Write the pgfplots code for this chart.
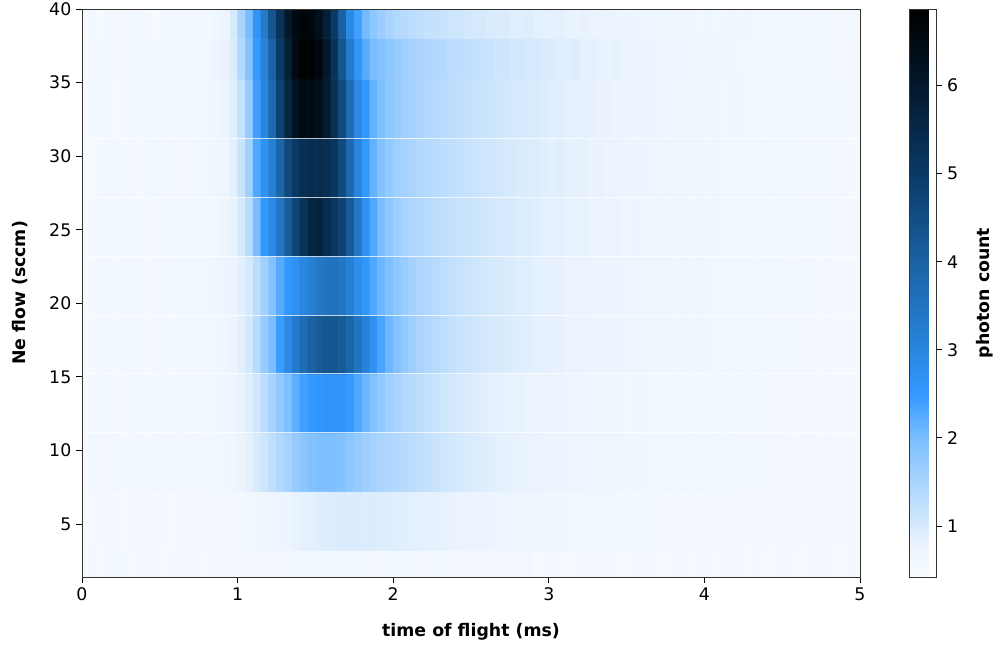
\documentclass[border=0pt]{standalone}
\usepackage{fontspec}
\setmainfont{DejaVu Sans}
\usepackage{pgfplots}
\pgfplotsset{compat=1.18}
\pgfplotsset{
  colormap={photon}{rgb255(0pt)=(248,251,255); rgb255(38pt)=(235,244,254); rgb255(58pt)=(214,234,252); rgb255(108pt)=(170,212,254); rgb255(158pt)=(122,190,255); rgb255(208pt)=(51,153,255); rgb255(258pt)=(40,134,222); rgb255(358pt)=(26,98,163); rgb255(458pt)=(10,58,102); rgb255(558pt)=(3,24,44); rgb255(645pt)=(0,0,0)}
}
\begin{document}
\begin{tikzpicture}[font=\fontsize{13}{15.6}\selectfont]
\begin{axis}[
  at={(0,0)}, anchor=south west, scale only axis,
  width=583.5pt, height=426pt,
  xmin=0, xmax=5, ymin=1.4, ymax=40,
  xtick={0,1,2,3,4,5}, ytick={5,10,15,20,25,30,35,40},
  tick align=outside, xtick pos=bottom, ytick pos=left,
  major tick length=4.5pt,
  tick style={black, line width=0.6pt},
  axis line style={line width=0.6pt, black!80},
  /pgf/number format/assume math mode=true,
  ticklabel style={font=\fontsize{13}{15.6}\selectfont},
  xlabel={\textbf{time of flight (ms)}},
  ylabel={\textbf{Ne flow (sccm)}},
  xlabel style={at={(axis description cs:0.5,-0.0968)}, anchor=center},
  ylabel style={at={(axis description cs:-0.0797,0.5)}, anchor=center},
  colormap name=photon,
  point meta min=0.42, point meta max=6.87,
  colorbar,
  colorbar style={
    at={(parent axis.north east)}, anchor=north west, xshift=28.5pt,
    scale only axis, width=20.25pt,
    ytick={1,2,3,4,5,6},
    ytick pos=right, yticklabel pos=right,
    tick align=outside, major tick length=4.5pt,
    tick style={black, line width=0.6pt},
    axis line style={line width=0.6pt, black!80},
    ylabel={\textbf{photon count}},
    ylabel style={at={(axis description cs:2.8,0.5)}, anchor=center, rotate=0},
    /pgf/number format/assume math mode=true,
  },
  axis on top,
]
\addplot[surf, shader=flat corner, mesh/rows=12, mesh/cols=101, point meta=explicit]
  table[header=false, row sep=\\, meta index=0,
    x expr={0.05*(\coordindex-101*floor(\coordindex/101))},
    y expr={ifthenelse(\coordindex<101,1.4,ifthenelse(\coordindex<1010,4*floor(\coordindex/101)-0.8,ifthenelse(\coordindex<1111,38,40)))}]
{
0.52\\0.56\\0.5\\0.58\\0.54\\0.6\\0.5\\0.55\\0.53\\0.57\\0.5\\0.54\\0.58\\0.52\\0.56\\0.5\\0.55\\0.53\\0.57\\0.54\\
0.56\\0.52\\0.58\\0.55\\0.6\\0.57\\0.54\\0.59\\0.56\\0.61\\0.58\\0.55\\0.6\\0.57\\0.59\\0.56\\0.62\\0.58\\0.55\\0.6\\
0.57\\0.59\\0.55\\0.58\\0.56\\0.6\\0.54\\0.57\\0.55\\0.58\\0.53\\0.56\\0.54\\0.57\\0.52\\0.55\\0.53\\0.56\\0.5\\0.54\\
0.52\\0.55\\0.5\\0.53\\0.56\\0.51\\0.54\\0.52\\0.55\\0.5\\0.53\\0.51\\0.55\\0.52\\0.5\\0.54\\0.51\\0.53\\0.5\\0.55\\
0.52\\0.5\\0.54\\0.51\\0.53\\0.5\\0.55\\0.52\\0.5\\0.53\\0.51\\0.54\\0.5\\0.52\\0.55\\0.51\\0.53\\0.5\\0.52\\0.54\\
0.5\\
0.5\\0.55\\0.52\\0.57\\0.54\\0.5\\0.56\\0.53\\0.58\\0.52\\0.55\\0.5\\0.57\\0.54\\0.52\\0.56\\0.53\\0.55\\0.57\\0.58\\
0.6\\0.62\\0.65\\0.68\\0.72\\0.75\\0.78\\0.82\\0.85\\0.88\\0.9\\0.92\\0.95\\0.96\\0.95\\0.96\\0.94\\0.95\\0.93\\0.92\\
0.9\\0.9\\0.88\\0.87\\0.85\\0.86\\0.83\\0.82\\0.8\\0.8\\0.78\\0.76\\0.77\\0.74\\0.73\\0.72\\0.7\\0.71\\0.68\\0.67\\
0.66\\0.68\\0.64\\0.63\\0.65\\0.62\\0.6\\0.62\\0.6\\0.58\\0.6\\0.57\\0.59\\0.56\\0.58\\0.55\\0.57\\0.54\\0.56\\0.55\\
0.53\\0.56\\0.54\\0.57\\0.52\\0.55\\0.53\\0.56\\0.52\\0.54\\0.55\\0.52\\0.54\\0.51\\0.56\\0.53\\0.55\\0.52\\0.54\\0.53\\
0.5\\
0.55\\0.6\\0.56\\0.58\\0.62\\0.55\\0.6\\0.57\\0.54\\0.61\\0.58\\0.6\\0.56\\0.59\\0.62\\0.57\\0.6\\0.63\\0.66\\0.7\\
0.76\\0.85\\0.98\\1.1\\1.25\\1.4\\1.55\\1.7\\1.82\\1.9\\1.95\\1.97\\1.95\\1.9\\1.8\\1.72\\1.62\\1.55\\1.5\\1.45\\
1.4\\1.35\\1.3\\1.25\\1.2\\1.15\\1.1\\1.06\\1.02\\0.98\\0.95\\0.92\\0.9\\0.88\\0.86\\0.84\\0.82\\0.8\\0.79\\0.77\\
0.75\\0.77\\0.73\\0.72\\0.74\\0.7\\0.71\\0.69\\0.7\\0.67\\0.66\\0.68\\0.64\\0.66\\0.63\\0.65\\0.62\\0.64\\0.61\\0.63\\
0.6\\0.62\\0.59\\0.61\\0.58\\0.6\\0.57\\0.59\\0.56\\0.58\\0.57\\0.55\\0.58\\0.56\\0.54\\0.57\\0.55\\0.53\\0.56\\0.54\\
0.5\\
0.52\\0.58\\0.55\\0.6\\0.53\\0.57\\0.61\\0.55\\0.59\\0.54\\0.6\\0.57\\0.62\\0.55\\0.58\\0.6\\0.62\\0.64\\0.68\\0.72\\
0.8\\0.92\\1.08\\1.3\\1.55\\1.75\\1.95\\2.2\\2.4\\2.5\\2.55\\2.6\\2.62\\2.6\\2.5\\2.3\\2.1\\1.9\\1.75\\1.6\\
1.5\\1.42\\1.35\\1.28\\1.22\\1.16\\1.1\\1.05\\1.0\\0.96\\0.92\\0.9\\0.87\\0.88\\0.84\\0.82\\0.83\\0.8\\0.78\\0.77\\
0.75\\0.77\\0.73\\0.72\\0.74\\0.7\\0.71\\0.68\\0.69\\0.66\\0.65\\0.67\\0.64\\0.66\\0.62\\0.64\\0.61\\0.63\\0.6\\0.62\\
0.6\\0.58\\0.61\\0.57\\0.6\\0.56\\0.59\\0.55\\0.58\\0.57\\0.56\\0.58\\0.54\\0.57\\0.55\\0.53\\0.56\\0.54\\0.57\\0.53\\
0.5\\
0.55\\0.52\\0.6\\0.57\\0.54\\0.61\\0.56\\0.6\\0.53\\0.58\\0.62\\0.55\\0.59\\0.57\\0.6\\0.58\\0.63\\0.66\\0.7\\0.76\\
0.88\\1.05\\1.35\\1.7\\2.0\\2.45\\2.9\\3.3\\3.7\\4.0\\4.2\\4.3\\4.3\\4.2\\3.9\\3.5\\3.1\\2.7\\2.35\\2.1\\
1.9\\1.75\\1.62\\1.5\\1.42\\1.35\\1.28\\1.22\\1.17\\1.13\\1.09\\1.05\\1.02\\0.99\\0.96\\0.94\\0.91\\0.9\\0.87\\0.85\\
0.83\\0.85\\0.8\\0.79\\0.81\\0.76\\0.78\\0.74\\0.76\\0.72\\0.71\\0.73\\0.69\\0.71\\0.67\\0.7\\0.66\\0.68\\0.64\\0.67\\
0.63\\0.65\\0.61\\0.64\\0.6\\0.62\\0.59\\0.61\\0.58\\0.6\\0.57\\0.59\\0.56\\0.58\\0.55\\0.57\\0.56\\0.54\\0.57\\0.55\\
0.5\\
0.55\\0.52\\0.6\\0.58\\0.54\\0.62\\0.57\\0.6\\0.55\\0.58\\0.63\\0.56\\0.6\\0.59\\0.62\\0.6\\0.64\\0.68\\0.72\\0.78\\
0.88\\1.0\\1.3\\1.6\\1.9\\2.25\\2.5\\2.7\\3.0\\3.2\\3.4\\3.5\\3.55\\3.45\\3.2\\2.8\\2.55\\2.3\\2.1\\1.95\\
1.8\\1.68\\1.56\\1.47\\1.4\\1.34\\1.28\\1.23\\1.18\\1.14\\1.1\\1.06\\1.03\\1.0\\0.97\\0.95\\0.92\\0.9\\0.88\\0.85\\
0.83\\0.85\\0.8\\0.79\\0.81\\0.77\\0.78\\0.75\\0.76\\0.73\\0.72\\0.74\\0.7\\0.71\\0.68\\0.7\\0.66\\0.69\\0.65\\0.67\\
0.64\\0.66\\0.62\\0.65\\0.61\\0.63\\0.6\\0.62\\0.59\\0.61\\0.58\\0.6\\0.57\\0.59\\0.55\\0.58\\0.56\\0.54\\0.57\\0.55\\
0.5\\
0.5\\0.57\\0.6\\0.54\\0.58\\0.62\\0.55\\0.6\\0.52\\0.59\\0.61\\0.56\\0.6\\0.57\\0.63\\0.58\\0.62\\0.66\\0.72\\0.82\\
1.0\\1.35\\2.0\\2.5\\2.9\\3.4\\4.1\\4.7\\5.2\\5.6\\5.7\\5.4\\5.1\\4.8\\4.2\\3.4\\2.7\\2.3\\2.0\\1.8\\
1.65\\1.55\\1.47\\1.4\\1.35\\1.3\\1.26\\1.22\\1.18\\1.15\\1.12\\1.08\\1.06\\1.02\\1.0\\0.98\\0.95\\0.93\\0.9\\0.88\\
0.86\\0.88\\0.83\\0.82\\0.84\\0.79\\0.8\\0.77\\0.79\\0.75\\0.74\\0.76\\0.71\\0.73\\0.7\\0.72\\0.68\\0.7\\0.66\\0.69\\
0.65\\0.67\\0.63\\0.66\\0.62\\0.64\\0.61\\0.63\\0.6\\0.62\\0.58\\0.61\\0.57\\0.6\\0.56\\0.59\\0.58\\0.55\\0.57\\0.56\\
0.5\\
0.55\\0.5\\0.6\\0.57\\0.62\\0.55\\0.58\\0.53\\0.6\\0.63\\0.56\\0.6\\0.58\\0.54\\0.61\\0.59\\0.63\\0.68\\0.75\\0.88\\
1.15\\1.6\\2.3\\2.7\\3.2\\3.9\\4.6\\5.0\\5.3\\5.4\\5.4\\5.3\\5.1\\4.6\\3.8\\3.0\\2.5\\2.15\\1.9\\1.75\\
1.62\\1.55\\1.48\\1.42\\1.37\\1.33\\1.28\\1.25\\1.2\\1.18\\1.14\\1.1\\1.08\\1.05\\1.02\\1.0\\0.97\\0.95\\0.93\\0.9\\
0.88\\0.9\\0.85\\0.84\\0.86\\0.8\\0.82\\0.78\\0.8\\0.76\\0.75\\0.77\\0.72\\0.74\\0.7\\0.72\\0.69\\0.71\\0.67\\0.68\\
0.65\\0.68\\0.63\\0.66\\0.62\\0.64\\0.6\\0.63\\0.61\\0.62\\0.59\\0.61\\0.58\\0.6\\0.57\\0.59\\0.56\\0.58\\0.57\\0.55\\
0.5\\
0.52\\0.6\\0.55\\0.63\\0.5\\0.58\\0.6\\0.54\\0.62\\0.57\\0.6\\0.53\\0.59\\0.62\\0.56\\0.6\\0.64\\0.7\\0.78\\0.9\\
1.2\\1.7\\2.4\\3.0\\3.8\\4.8\\5.6\\6.2\\6.5\\6.5\\6.3\\5.9\\5.3\\4.6\\3.7\\2.9\\2.5\\2.15\\1.95\\1.8\\
1.7\\1.6\\1.55\\1.48\\1.42\\1.38\\1.33\\1.3\\1.25\\1.22\\1.18\\1.15\\1.12\\1.08\\1.06\\1.03\\1.0\\0.98\\0.96\\0.93\\
0.9\\0.92\\0.87\\0.86\\0.84\\0.85\\0.8\\0.82\\0.78\\0.79\\0.76\\0.75\\0.78\\0.72\\0.74\\0.7\\0.72\\0.68\\0.7\\0.67\\
0.66\\0.68\\0.63\\0.65\\0.67\\0.62\\0.64\\0.6\\0.63\\0.61\\0.6\\0.62\\0.58\\0.6\\0.61\\0.57\\0.59\\0.56\\0.58\\0.57\\
0.5\\
0.5\\0.58\\0.62\\0.55\\0.6\\0.52\\0.65\\0.57\\0.6\\0.54\\0.62\\0.58\\0.6\\0.55\\0.63\\0.6\\0.66\\0.72\\0.8\\0.95\\
1.4\\1.9\\2.5\\3.1\\4.0\\5.0\\5.8\\6.5\\6.85\\6.85\\6.6\\6.0\\5.2\\4.3\\3.3\\2.6\\2.25\\2.0\\1.9\\1.8\\
1.7\\1.62\\1.55\\1.5\\1.45\\1.4\\1.36\\1.3\\1.28\\1.24\\1.2\\1.18\\1.15\\1.1\\1.12\\1.06\\1.04\\1.0\\1.02\\0.96\\
0.95\\0.92\\0.9\\0.93\\0.86\\0.88\\0.84\\0.82\\0.85\\0.8\\0.78\\0.8\\0.75\\0.77\\0.73\\0.74\\0.7\\0.72\\0.69\\0.7\\
0.67\\0.7\\0.65\\0.68\\0.64\\0.66\\0.62\\0.65\\0.61\\0.63\\0.6\\0.62\\0.58\\0.6\\0.57\\0.59\\0.6\\0.55\\0.57\\0.56\\
0.5\\
0.55\\0.6\\0.5\\0.62\\0.58\\0.52\\0.6\\0.66\\0.55\\0.5\\0.58\\0.62\\0.54\\0.6\\0.57\\0.63\\0.59\\0.7\\0.78\\1.0\\
1.5\\2.0\\2.6\\3.3\\4.3\\5.2\\6.0\\6.5\\6.7\\6.6\\6.3\\5.8\\5.0\\4.0\\2.9\\2.4\\2.05\\1.8\\1.65\\1.5\\
1.42\\1.35\\1.3\\1.25\\1.2\\1.2\\1.15\\1.1\\1.1\\1.05\\1.0\\1.02\\0.97\\0.95\\0.96\\0.92\\0.9\\0.93\\0.88\\0.86\\
0.85\\0.88\\0.82\\0.8\\0.83\\0.79\\0.78\\0.81\\0.76\\0.75\\0.77\\0.73\\0.72\\0.75\\0.7\\0.71\\0.68\\0.72\\0.69\\0.66\\
0.7\\0.66\\0.65\\0.68\\0.64\\0.67\\0.63\\0.62\\0.66\\0.6\\0.63\\0.6\\0.62\\0.58\\0.61\\0.6\\0.57\\0.55\\0.59\\0.58\\
0.5\\
0.5\\0.5\\0.5\\0.5\\0.5\\0.5\\0.5\\0.5\\0.5\\0.5\\0.5\\0.5\\0.5\\0.5\\0.5\\0.5\\0.5\\0.5\\0.5\\0.5\\
0.5\\0.5\\0.5\\0.5\\0.5\\0.5\\0.5\\0.5\\0.5\\0.5\\0.5\\0.5\\0.5\\0.5\\0.5\\0.5\\0.5\\0.5\\0.5\\0.5\\
0.5\\0.5\\0.5\\0.5\\0.5\\0.5\\0.5\\0.5\\0.5\\0.5\\0.5\\0.5\\0.5\\0.5\\0.5\\0.5\\0.5\\0.5\\0.5\\0.5\\
0.5\\0.5\\0.5\\0.5\\0.5\\0.5\\0.5\\0.5\\0.5\\0.5\\0.5\\0.5\\0.5\\0.5\\0.5\\0.5\\0.5\\0.5\\0.5\\0.5\\
0.5\\0.5\\0.5\\0.5\\0.5\\0.5\\0.5\\0.5\\0.5\\0.5\\0.5\\0.5\\0.5\\0.5\\0.5\\0.5\\0.5\\0.5\\0.5\\0.5\\
0.5\\
};
\pgfplotsinvokeforeach{11.2,15.2,19.2,23.2,27.2,31.2}{
  \draw[white, opacity=0.75, line width=0.7pt] (axis cs:0,#1) -- (axis cs:5,#1);
}
\end{axis}
\pgfresetboundingbox
\useasboundingbox (-61.5pt,-50.25pt) rectangle (687.75pt,432.75pt);
\end{tikzpicture}
\end{document}
